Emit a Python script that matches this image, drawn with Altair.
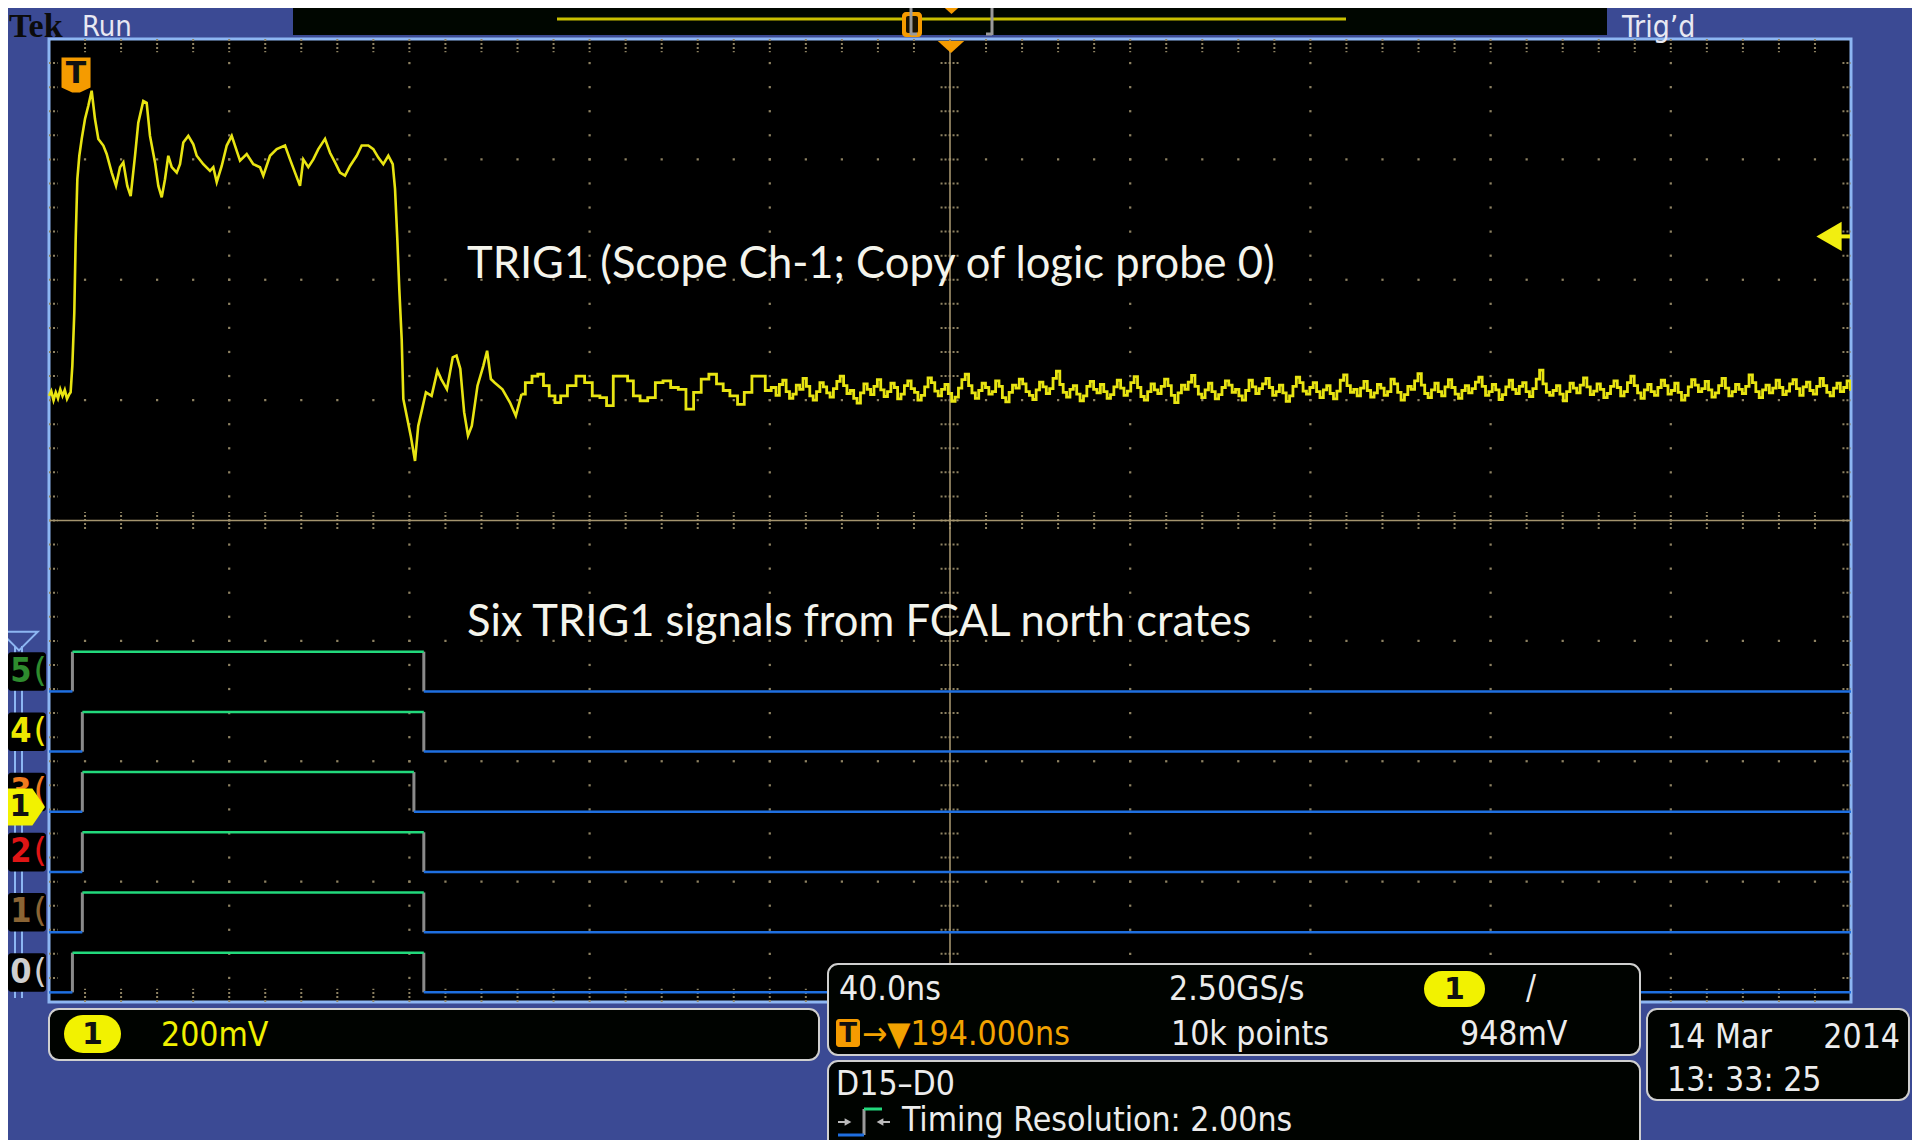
import numpy as np
import pandas as pd
import altair as alt

# ---------------- scope settings ----------------
T_LEFT, T_CENTER, T_RIGHT = -6.0, 194.0, 394.0   # ns, trigger at t = 0
NS_PER_DIV = 40.0
DIV_HALF = 4                                      # 8 vertical divisions
MV_PER_DIV = 200.0
CH1_POS_DIV = -2.38                               # channel-1 ground marker
TRIG_LEVEL_MV = [948.0]
TRIG_TIME_NS = [0.0]

# ---------------- channel 1 (analog) trace: time [ns], voltage [mV] ----------------
trace_t = [-6.0, -5.5, -5.0, -4.5, -4.0, -3.5, -3.0, -2.5, -2.0, -1.5, -1.2,
           -0.82, -0.38, -0.08, 0.29, 0.73, 1.26, 1.99, 2.73, 3.47, 4.21, 4.95,
           6.06, 6.80, 7.92, 8.87, 9.76, 10.50, 11.38, 12.13, 13.09, 13.82, 14.93,
           15.68, 16.42, 17.53, 18.27, 19.02, 19.75, 20.48, 21.24, 22.35, 23.08,
           23.81, 24.92, 26.03, 26.79, 28.25, 29.74, 30.47, 31.23, 32.34, 33.45,
           34.56, 35.67, 36.40, 37.89, 39.35, 40.84, 41.57, 43.06, 44.55, 46.39,
           47.50, 48.61, 49.72, 50.45, 51.56, 52.67, 53.78, 55.27, 56.38, 57.49,
           58.60, 59.71, 60.82, 62.30, 63.41, 64.88, 65.99, 67.10, 68.21, 69.32,
           70.30, 70.81, 71.32, 71.76, 72.29, 72.65, 73.40, 74.29, 75.25, 75.96,
           76.82, 77.67, 78.93, 80.22, 81.06, 82.33, 83.62, 84.46, 85.30, 86.15,
           87.01, 87.85, 89.12, 90.41, 91.25, 92.09, 92.94, 94.65, 96.33, 97.62,
           98.89, 100.58, 101.86, 103.13, 104.39, 105.68, 106.94, 108.23, 109.92,
           112.05, 113.74, 115.45, 117.13, 118.40, 120.11, 121.79, 123.08, 124.35,
           126.06, 127.74, 129.45, 131.14, 132.85, 134.53, 136.24, 137.93, 139.62,
           141.33, 143.01, 144.30, 145.99, 147.70, 148.97, 151.09, 152.36, 153.63]
trace_mv = [683, 691, 676, 689, 679, 694, 683, 693, 678, 686, 689,
            733, 822, 943, 1043, 1082, 1110, 1143, 1165, 1190, 1143, 1110,
            1099, 1085, 1054, 1032, 1063, 1071, 1032, 1015, 1082, 1137, 1173,
            1170, 1115, 1071, 1032, 1013, 1043, 1082, 1063, 1054, 1068,
            1104, 1115, 1101, 1082, 1068, 1057, 1063, 1038, 1065, 1099,
            1115, 1090, 1074, 1085, 1068, 1063, 1049, 1082, 1093, 1099,
            1076, 1054, 1032, 1076, 1063, 1076, 1093, 1110, 1087, 1071,
            1054, 1049, 1065, 1082, 1099, 1099, 1093, 1079, 1068, 1082,
            1068, 1027, 943, 860, 777, 678, 650, 617, 575, 633,
            661, 689, 683, 725, 711, 694, 747, 750, 728, 656,
            617, 633, 700, 733, 758, 711, 705, 694, 672, 650,
            686, 705, 716, 719, 700, 683, 672, 683, 700,
            716, 705, 683, 680, 667, 716, 716, 708, 683,
            675, 680, 705, 708, 697, 694, 661, 689, 711,
            719, 703, 692, 683, 669, 689, 716, 716, 692]
STEP_FROM_NS = 98.0   # the scope's sample-and-hold look shows from here on

# settled part of the trace, one sample per 0.75 ns from 155 ns
noise_t0, noise_dt = 155.0, 0.75
noise_mv = [697, 684, 702, 709, 690, 679, 686, 701, 694, 712, 699, 683, 676, 690, 705, 698, 688, 681, 695, 707,
            716, 700, 687, 692, 679, 671, 688, 703, 694, 685, 699, 710, 693, 682, 690, 704, 697, 678, 686, 700,
            708, 695, 689, 676, 684, 698, 713, 705, 691, 683, 694, 702, 687, 674, 681, 696, 710, 719, 700, 688,
            679, 692, 704, 697, 686, 690, 708, 699, 680, 673, 689, 701, 696, 711, 703, 690, 684, 677, 693, 706,
            698, 687, 695, 712, 724, 702, 689, 681, 694, 700, 686, 675, 683, 699, 707, 694, 688, 702, 690, 679,
            685, 698, 709, 696, 684, 691, 705, 715, 697, 682, 676, 690, 703, 693, 687, 699, 711, 700, 684, 672,
            688, 701, 694, 706, 717, 699, 686, 680, 693, 704, 690, 678, 685, 697, 708, 701, 689, 694, 683, 676,
            692, 709, 698, 687, 695, 703, 712, 697, 684, 690, 701, 688, 674, 683, 699, 714, 705, 691, 686, 697,
            705, 690, 680, 693, 700, 687, 678, 691, 709, 718, 700, 689, 694, 683, 696, 707, 692, 681, 688, 702,
            696, 684, 690, 711, 703, 689, 676, 685, 699, 694, 708, 720, 701, 687, 680, 693, 704, 690, 683, 698,
            710, 697, 686, 679, 692, 700, 688, 695, 706, 714, 699, 684, 690, 702, 693, 677, 685, 698, 709, 694,
            687, 699, 705, 690, 682, 695, 711, 726, 703, 689, 684, 692, 700, 686, 675, 690, 704, 696, 688, 701,
            713, 698, 685, 691, 703, 694, 680, 687, 699, 708, 697, 683, 690, 705, 716, 700, 688, 679, 693, 702,
            690, 684, 697, 709, 700, 686, 692, 704, 689, 676, 684, 698, 710, 701, 690, 695, 707, 693, 681, 688,
            700, 712, 696, 683, 690, 702, 694, 687, 699, 718, 705, 690, 680, 693, 701, 688, 696, 709, 697, 685,
            691, 703, 710, 695, 684, 698, 706, 692, 686, 699, 712, 700, 689, 683, 696, 704, 690, 697, 708, 694]

# ---------------- digital channels D5..D0 ----------------
dig_names = ["5", "4", "3", "2", "1", "0"]
dig_low_div = [-1.42, -1.92, -2.42, -2.92, -3.42, -3.92]
dig_high_div = [-1.09, -1.59, -2.09, -2.59, -3.09, -3.59]
dig_rise_ns = [-0.8, 1.4, 1.4, 1.4, 1.4, -0.8]
dig_fall_ns = [77.2, 77.2, 75.0, 77.2, 77.2, 77.2]
dig_colors = ["#2E8B2E", "#EDE800", "#F07A1E", "#E01515", "#8A6434", "#CFCFCF"]

# ---------------- layout / style ----------------
W, H = 1802, 963
X0, Y0 = 49, 39
PAD = {"left": 41, "top": 31, "right": 61, "bottom": 138}
BG = "#3B4A94"
GRID = "#8E8262"
CLINE = "#A4946E"
YEL = "#E8E412"
ORANGE = "#F59B00"
WHITE = "#ECECEC"
LOWC, HIGHC, EDGEC = "#1F6FE0", "#22D97C", "#8A8A8A"
SCOPE_FONT = "DejaVu Sans Condensed, sans-serif"
FS = 33.5
NOTE_FONT = "Lato, Open Sans, sans-serif"

XS = alt.Scale(domain=[T_LEFT, T_RIGHT], nice=False, zero=False)
YS = alt.Scale(domain=[-DIV_HALF, DIV_HALF], nice=False, zero=False)
one = pd.DataFrame({"k": [0]})


def X(f):
    return alt.X(f, type="quantitative", scale=XS, axis=None)


def Y(f):
    return alt.Y(f, type="quantitative", scale=YS, axis=None)


def vx(x):
    return alt.value(x - X0)


def vy(y):
    return alt.value(y - Y0)


def txt(s, x, y, size, color, font=SCOPE_FONT, align="left", weight="normal", baseline="alphabetic"):
    return alt.Chart(pd.DataFrame({"s": [s]})).mark_text(
        align=align, baseline=baseline, fontSize=size, font=font,
        fontWeight=weight, color=color).encode(text="s:N", x=vx(x), y=vy(y))


def rect(x1, y1, x2, y2, fill, stroke=None, sw=0, r=0):
    kw = dict(fill=fill, cornerRadius=r, opacity=1)
    if stroke:
        kw.update(stroke=stroke, strokeWidth=sw)
    return alt.Chart(one).mark_rect(**kw).encode(x=vx(x1), x2=vx(x2), y=vy(y1), y2=vy(y2))


def seg(x1, y1, x2, y2, color, sw):
    return alt.Chart(one).mark_rule(color=color, strokeWidth=sw).encode(
        x=vx(x1), x2=vx(x2), y=vy(y1), y2=vy(y2))


def pt(x, y, shape, size, color, filled=True, sw=1):
    kw = dict(shape=shape, size=size, opacity=1, filled=filled, color=color)
    kw.update(strokeWidth=0 if filled else sw)
    return alt.Chart(one).mark_point(**kw).encode(x=vx(x), y=vy(y))


# ---------------- graticule ----------------
major_x = [T_LEFT + NS_PER_DIV * i for i in range(11)]
minor_x = [T_LEFT + NS_PER_DIV / 5 * i for i in range(51)]
major_y = list(range(-DIV_HALF, DIV_HALF + 1))
minor_y = [round(-DIV_HALF + 0.2 * i, 2) for i in range(41)]

dots = []
for xm in major_x[1:-1]:
    if xm == T_CENTER:
        continue
    for ym in minor_y[1:-1]:
        dots.append((xm, ym))
for ym in major_y[1:-1]:
    if ym == 0:
        continue
    for xm in minor_x[1:-1]:
        dots.append((xm, ym))
dots_df = pd.DataFrame(dots, columns=["x", "y"])

ticks = []
for xm in minor_x[1:-1]:
    ticks.append((xm, xm, DIV_HALF, DIV_HALF - 0.11))
    ticks.append((xm, xm, -DIV_HALF, -DIV_HALF + 0.11))
    ticks.append((xm, xm, -0.07, 0.07))
for ym in minor_y[1:-1]:
    ticks.append((T_LEFT, T_LEFT + 1.9, ym, ym))
    ticks.append((T_RIGHT - 1.9, T_RIGHT, ym, ym))
    ticks.append((T_CENTER - 2.1, T_CENTER + 2.1, ym, ym))
ticks_df = pd.DataFrame(ticks, columns=["x", "x2", "y", "y2"])

grid_dots = alt.Chart(dots_df).mark_square(size=5, color=GRID, opacity=1).encode(x=X("x"), y=Y("y"))
grid_ticks = alt.Chart(ticks_df).mark_rule(color=GRID, strokeWidth=2, strokeDash=[2, 2]).encode(
    x=X("x"), x2="x2:Q", y=Y("y"), y2="y2:Q")
center_v = alt.Chart(pd.DataFrame({"x": [T_CENTER]})).mark_rule(color=CLINE, strokeWidth=1.6).encode(x=X("x"))
center_h = alt.Chart(pd.DataFrame({"y": [0.0]})).mark_rule(color=CLINE, strokeWidth=1.6).encode(y=Y("y"))

# ---------------- digital traces ----------------
segs = []
for lo, hi, r, f in zip(dig_low_div, dig_high_div, dig_rise_ns, dig_fall_ns):
    segs.append(("low", T_LEFT, r, lo, lo))
    segs.append(("high", r, f, hi, hi))
    segs.append(("low", f, T_RIGHT, lo, lo))
    segs.append(("edge", r, r, lo, hi))
    segs.append(("edge", f, f, lo, hi))
seg_df = pd.DataFrame(segs, columns=["kind", "x", "x2", "y", "y2"])


def dig_layer(kind, color, sw):
    return alt.Chart(seg_df).transform_filter(f"datum.kind == '{kind}'").mark_rule(
        color=color, strokeWidth=sw).encode(x=X("x"), x2="x2:Q", y=Y("y"), y2="y2:Q")


dig_edges = dig_layer("edge", EDGEC, 3)
dig_low = dig_layer("low", LOWC, 2.5)
dig_high = dig_layer("high", HIGHC, 2.5)

# ---------------- analog trace ----------------
CALC = f"datum.mv / {MV_PER_DIV} + {CH1_POS_DIV}"
full_t = list(trace_t) + [noise_t0 + noise_dt * i for i in range(len(noise_mv))]
full_mv = list(trace_mv) + list(noise_mv)
an_df = pd.DataFrame({"t": full_t, "mv": full_mv})
split = next(i for i, t in enumerate(full_t) if t >= STEP_FROM_NS)
lin_df = an_df.iloc[:split + 1]
stp_df = an_df.iloc[split:]
analog = alt.Chart(lin_df).transform_calculate(div=CALC).mark_line(
    color=YEL, strokeWidth=2.6).encode(x=X("t"), y=Y("div"))
analog_nz = alt.Chart(stp_df).transform_calculate(div=CALC).mark_line(
    color=YEL, strokeWidth=2.8, interpolate="step", clip=True).encode(x=X("t"), y=Y("div"))

# trigger level arrow (right) and trigger marker (top-left)
lvl_df = pd.DataFrame({"mv": TRIG_LEVEL_MV})
lvl_base = alt.Chart(lvl_df).transform_calculate(div=CALC)
lvl_arrow = lvl_base.mark_point(shape="triangle-left", filled=True, color="#F2EE10", size=850, opacity=1,
                                strokeWidth=0).encode(x=vx(1829), y=Y("div"))
lvl_stub = lvl_base.mark_rule(color="#F2EE10", strokeWidth=4).encode(x=vx(1834), x2=vx(1850), y=Y("div"))

SHIELD = "M-0.83,-1L0.83,-1L0.83,0.72L0.22,1L-0.22,1L-0.83,0.72Z"
trg_df = pd.DataFrame({"t": TRIG_TIME_NS})
trg_shape = alt.Chart(trg_df).mark_point(shape=SHIELD, filled=True, color=ORANGE, size=1225,
                                         opacity=1, strokeWidth=0).encode(x=X("t"), y=vy(75))
trg_text = alt.Chart(trg_df).mark_text(text="T", fontSize=30, fontWeight="bold", color="#111111",
                                       font="DejaVu Sans", baseline="middle").encode(x=X("t"), y=vy(74))

tri_top = pt(951, 47, "M-1,-0.45L1,-0.45L0,0.45Z", 700, ORANGE)

# ---------------- left side channel markers ----------------
lab_df = pd.DataFrame({
    "name": dig_names,
    "col": dig_colors,
    "mid": [(a + b) / 2 for a, b in zip(dig_low_div, dig_high_div)],
})
lab_df["top"] = lab_df["mid"] + 0.16
lab_df["bot"] = lab_df["mid"] - 0.16
lab_bg = alt.Chart(lab_df).mark_rect(fill="#000000", cornerRadius=3, opacity=1).encode(
    x=vx(8), x2=vx(46), y=Y("top"), y2="bot:Q")
lab_digit = alt.Chart(lab_df).mark_text(fontSize=34, fontWeight="bold", font="DejaVu Sans Condensed, DejaVu Sans",
                                        baseline="middle").encode(
    x=vx(21), y=Y("mid"), text="name:N", color=alt.Color("col:N", scale=None))
lab_br = alt.Chart(lab_df).mark_text(text="(", fontSize=34, font="DejaVu Sans", baseline="middle").encode(
    x=vx(40), y=Y("mid"), color=alt.Color("col:N", scale=None))

track1 = seg(15, 646, 15, 998, "#8DB6F2", 2)
track2 = seg(22, 646, 22, 998, "#8DB6F2", 2)
track_tri = pt(19, 641, "M-1,-0.5L1,-0.5L0,0.5Z", 1400, "#8DB6F2", filled=False, sw=2)

gnd_df = pd.DataFrame({"div": [CH1_POS_DIV]})
PENT = "M-1,-0.8L0.45,-0.8L1,0L0.45,0.8L-1,0.8Z"
gnd_mark = alt.Chart(gnd_df).mark_point(shape=PENT, filled=True, color="#F2F200", size=2116, opacity=1,
                                        strokeWidth=0).encode(x=vx(22), y=Y("div"))
gnd_text = alt.Chart(gnd_df).mark_text(text="1", fontSize=30, fontWeight="bold", color="#111111",
                                       font="DejaVu Sans", baseline="middle").encode(x=vx(20), y=Y("div"))

# ---------------- annotations ----------------
note1 = txt("TRIG1 (Scope Ch-1; Copy of logic probe 0)", 467, 278, 43.5, "#F4F4EC", font=NOTE_FONT)
note2 = txt("Six TRIG1 signals from FCAL north crates", 467, 636, 43.5, "#F4F4EC", font=NOTE_FONT)

# ---------------- header ----------------
header = [
    rect(293, 3, 1607, 35, "#000600"),
    seg(557, 19, 1346, 19, "#C8C000", 3),
    rect(902, 12, 922, 37, ORANGE, r=4),
    rect(906, 16, 918, 33, "#1A1200", r=2),
    seg(911, 4, 911, 35, "#9A9A9A", 3), seg(911, 5, 917, 5, "#9A9A9A", 3), seg(911, 34, 917, 34, "#9A9A9A", 3),
    seg(992, 4, 992, 35, "#9A9A9A", 3), seg(986, 5, 992, 5, "#9A9A9A", 3), seg(986, 34, 992, 34, "#9A9A9A", 3),
    pt(951.5, 10, "M-1,-0.45L1,-0.45L0,0.45Z", 320, ORANGE),
    txt("Tek", 9, 37, 34, "#0B0B0B", font="Liberation Serif, DejaVu Serif, serif", weight="bold"),
    txt("Run", 82, 36, 29, "#E8E8F2"),
    txt("Trig\u2019d", 1622, 37, 30, "#E8E8F2"),
]

# ---------------- bottom readouts ----------------
BOXS = "#CFCFCF"
boxes = [
    rect(49, 1009, 819, 1060, "#000300", BOXS, 2, 10),
    rect(64, 1015, 121, 1053, "#F2F200", r=19),
    txt("1", 92.5, 1035, 30, "#111111", font="DejaVu Sans", align="center", weight="bold", baseline="middle"),
    txt("200mV", 161, 1046, FS, "#F0F000"),

    rect(828, 964, 1640, 1055, "#000300", BOXS, 2, 10),
    txt("40.0ns", 839, 1000, FS, WHITE),
    txt("2.50GS/s", 1169, 1000, FS, WHITE),
    rect(1424, 971, 1485, 1007, "#F2F200", r=18),
    txt("1", 1454.5, 990, 30, "#111111", font="DejaVu Sans", align="center", weight="bold", baseline="middle"),
    txt("/", 1526, 999, 33, WHITE),
    rect(836, 1019, 860, 1047, ORANGE, r=3),
    txt("T", 848, 1034, 26, "#111111", font="DejaVu Sans", align="center", weight="bold", baseline="middle"),
    txt("\u2192\u25BC194.000ns", 862, 1045, FS, "#F2A200"),
    txt("10k points", 1171, 1045, FS, WHITE),
    txt("948mV", 1460, 1045, FS, WHITE),

    rect(828, 1061, 1640, 1170, "#000300", BOXS, 2, 10),
    txt("D15\u2013D0", 836, 1095, FS, WHITE),
    seg(838, 1122, 846, 1122, "#BBBBBB", 2),
    pt(848, 1122, "triangle-right", 60, "#BBBBBB"),
    seg(864, 1109, 864, 1135, "#9A9A9A", 3),
    seg(864, 1109, 882, 1109, HIGHC, 3),
    seg(838, 1135, 864, 1135, LOWC, 3),
    pt(880, 1122, "triangle-left", 60, "#BBBBBB"),
    seg(882, 1122, 890, 1122, "#BBBBBB", 2),
    txt("Timing Resolution: 2.00ns", 902, 1131, FS, WHITE),

    rect(1647, 1009, 1909, 1100, "#000300", BOXS, 2, 10),
    txt("14 Mar", 1667, 1048, FS, WHITE),
    txt("2014", 1900, 1048, FS, WHITE, align="right"),
    txt("13: 33: 25", 1667, 1091, FS, WHITE),
]

layers = [grid_dots, grid_ticks, center_v, center_h,
          dig_edges, dig_low, dig_high, analog, analog_nz,
          note1, note2, lvl_stub, lvl_arrow, trg_shape, trg_text, tri_top,
          track1, track2, track_tri, lab_bg, lab_digit, lab_br, gnd_mark, gnd_text] + header + boxes

chart = alt.layer(*layers).properties(
    width=W, height=H, padding=PAD,
    autosize=alt.AutoSizeParams(type="none"),
    background=BG,
).configure_view(fill="#000000", stroke="#8DB6F2", strokeWidth=3)

chart.save("out.html", embed_options={"renderer": "svg", "actions": False})
